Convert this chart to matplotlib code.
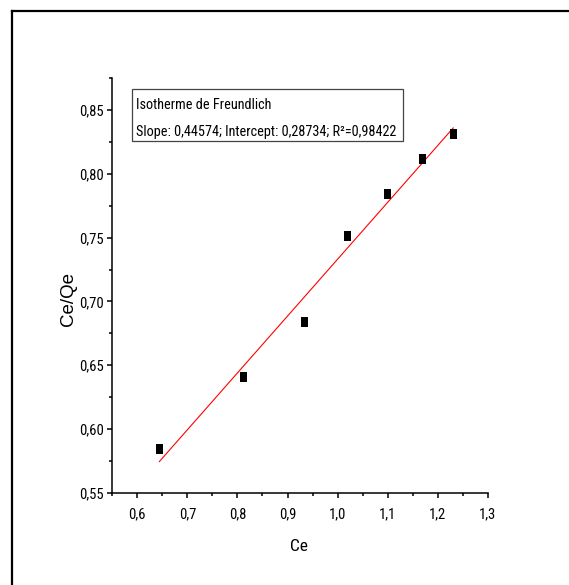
import matplotlib
matplotlib.use("Agg")
import matplotlib.pyplot as plt
import numpy as np
from matplotlib.lines import Line2D
from matplotlib.patches import Rectangle
from matplotlib.ticker import MultipleLocator, FuncFormatter
from matplotlib import font_manager as fm

# police etroite, la premiere disponible
wanted = ['Liberation Sans Narrow', 'Arial Narrow', 'Roboto Condensed', 'Archivo Narrow',
          'PT Sans Narrow', 'Fira Sans Condensed', 'Liberation Sans']
have = {f.name for f in fm.fontManager.ttflist}
plt.rcParams['font.family'] = [n for n in wanted if n in have] + ['DejaVu Sans']

# isotherme de Freundlich
Ce = [0.644, 0.811, 0.932, 1.018, 1.098, 1.169, 1.231]
CeQe = [0.584, 0.641, 0.684, 0.751, 0.784, 0.812, 0.831]
slope = 0.44574
intercept = 0.28734
r2 = 0.98422

fig = plt.figure(figsize=(5.69, 5.85), dpi=100)
ax = fig.add_axes([0.1974, 0.1578, 0.6598, 0.7084])

# points (marqueurs rectangulaires)
rect = [(-0.35, -0.5), (0.35, -0.5), (0.35, 0.5), (-0.35, 0.5), (-0.35, -0.5)]
ax.plot(Ce, CeQe, linestyle='none', marker=rect, markersize=7.2,
        color='black', markeredgewidth=0, zorder=3)

# droite de regression
xf = np.array([min(Ce), max(Ce)])
ax.plot(xf, intercept + slope * xf, color='red', lw=0.8, zorder=2)

ax.set_xlim(0.55, 1.3)
ax.set_ylim(0.55, 0.875)
ax.xaxis.set_major_locator(MultipleLocator(0.1))
ax.xaxis.set_minor_locator(MultipleLocator(0.05))
ax.yaxis.set_major_locator(MultipleLocator(0.05))
ax.yaxis.set_minor_locator(MultipleLocator(0.025))
ax.xaxis.set_major_formatter(FuncFormatter(lambda v, p: f"{v:.1f}".replace('.', ',')))
ax.yaxis.set_major_formatter(FuncFormatter(lambda v, p: f"{v:.2f}".replace('.', ',')))

for s in ['top', 'right']:
    ax.spines[s].set_visible(False)
for s in ['left', 'bottom']:
    ax.spines[s].set_linewidth(1.1)
ax.tick_params(which='major', direction='out', length=3.8, width=1.1, labelsize=10.5)
ax.tick_params(which='minor', direction='out', length=2.4, width=1.1)
ax.tick_params(axis='x', which='major', pad=6.5)
ax.tick_params(axis='y', which='major', pad=2.5)

ax.set_xlabel('Ce', fontsize=12.5)
ax.xaxis.set_label_coords(0.497, -0.112)
ax.set_ylabel('Ce/Qe', fontsize=13.5, family=['Liberation Sans', 'DejaVu Sans'])
ax.yaxis.set_label_coords(-0.094, 0.467)

# encadre de la regression
ax.add_patch(Rectangle((0.0525, 0.8487), 0.7213, 0.1255, transform=ax.transAxes,
                       facecolor='white', edgecolor='#444444', lw=0.9, zorder=4))
ax.text(0.063, 0.9355, 'Isotherme de Freundlich', transform=ax.transAxes,
        fontsize=10.3, va='center', ha='left', zorder=5)
stats = f"Slope: {slope:.5f}; Intercept: {intercept:.5f}; R²={r2:.5f}".replace('.', ',')
ax.text(0.063, 0.8705, stats, transform=ax.transAxes,
        fontsize=10.3, va='center', ha='left', zorder=5)

# cadre de la page
fig.add_artist(Line2D([0.0211, 1.0], [0.982, 0.982], color='black', lw=1.6))
fig.add_artist(Line2D([0.0211, 0.0211], [0.0, 0.982], color='black', lw=1.6))

fig.savefig('out.png', dpi=100)
